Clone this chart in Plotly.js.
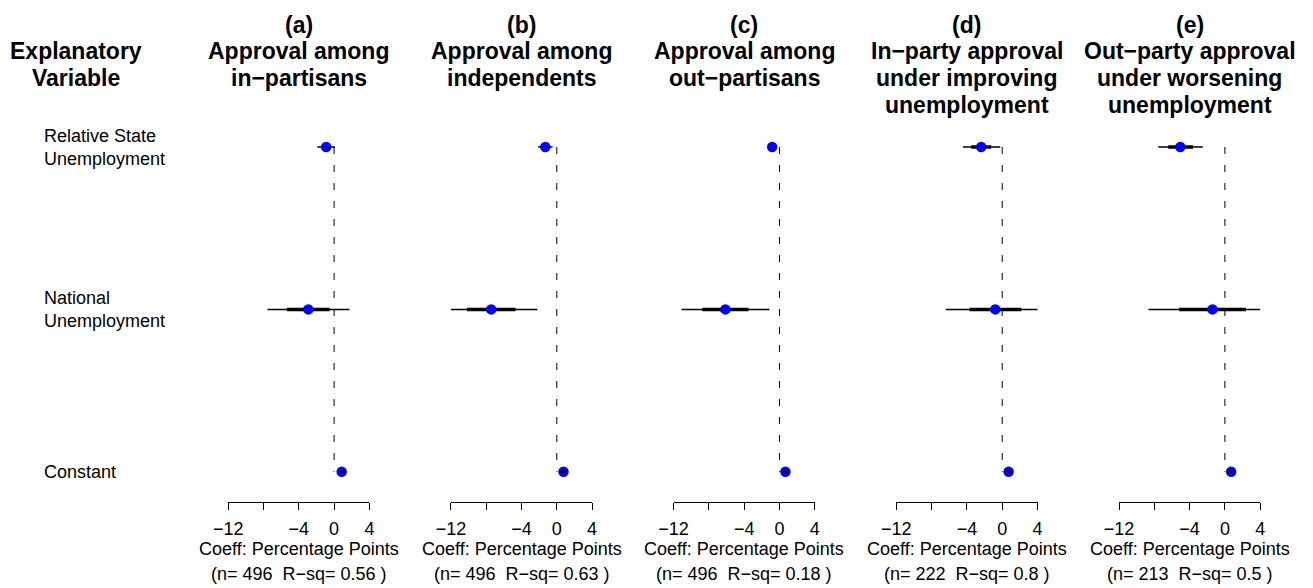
<!DOCTYPE html>
<html>
<head>
<meta charset="utf-8">
<script src="https://cdn.plot.ly/plotly-3.0.1.min.js"></script>
<style>
  html, body { margin: 0; padding: 0; background: #fff; }
  #chart { width: 1313px; height: 588px; }
</style>
</head>
<body>
<div id="chart"></div>
<script>
// Explanatory variables (rows, top to bottom) and their row positions
const variables = ['Relative State<br>Unemployment', 'National<br>Unemployment', 'Constant'];
const rowPos = [1, 2, 3];

// Panel headings, one list of lines per model
const panelTitles = [
  ['(a)', 'Approval among', 'in\u2212partisans'],
  ['(b)', 'Approval among', 'independents'],
  ['(c)', 'Approval among', 'out\u2212partisans'],
  ['(d)', 'In\u2212party approval', 'under improving', 'unemployment'],
  ['(e)', 'Out\u2212party approval', 'under worsening', 'unemployment']
];

// Coefficient estimates, percentage points (one array per model: relative, national, constant)
const coef = [
  [-0.90, -2.92, 0.86],
  [-1.30, -7.43, 0.76],
  [-0.83, -6.13, 0.67],
  [-2.38, -0.78, 0.73],
  [-5.05, -1.40, 0.71]
];
// Outer interval (thin segments)
const outerLo = [
  [-1.90, -7.55, 0.56],
  [-2.12, -12.70, 0.46],
  [-1.32, -11.10, 0.37],
  [-4.44, -6.40, 0.43],
  [-7.55, -8.66, 0.41]
];
const outerHi = [
  [0.10, 1.74, 1.16],
  [-0.48, -2.20, 1.06],
  [-0.34, -1.15, 0.97],
  [-0.22, 4.85, 1.03],
  [-2.50, 5.90, 1.01]
];
// Inner interval (thick segments)
const innerLo = [
  [-1.40, -5.34, 0.71],
  [-1.72, -10.19, 0.61],
  [-1.08, -8.74, 0.52],
  [-3.50, -3.70, 0.58],
  [-6.42, -5.18, 0.56]
];
const innerHi = [
  [-0.40, -0.50, 1.01],
  [-0.88, -4.68, 0.91],
  [-0.58, -3.50, 0.82],
  [-1.25, 2.16, 0.88],
  [-3.62, 2.38, 0.86]
];

// Model fit statistics
const nObs = [496, 496, 496, 222, 213];
const rSq = ['0.56', '0.63', '0.18', '0.8', '0.5'];

// Axis ticks
const tickVals = [-12, -8, -4, 0, 4];
const tickText = ['\u221212', '', '\u22124', '0', '4'];

// ---- layout geometry (pixels) ----
const W = 1313, H = 588;
const FONT = 'Liberation Sans, Arial, Helvetica, sans-serif';
const panelLeft0 = 228.2, panelStep = 222.7, panelWidth = 141.2;
const axisY = 501.7, topY = 120;
const rowPix1 = 147, rowStep = 162.4;
const yLow = 1 + (axisY - rowPix1) / rowStep;
const yHigh = 1 - (rowPix1 - topY) / rowStep;
const py = p => 1 - p / H;

const traces = [];
const annotations = [];
const layout = {
  width: W, height: H,
  margin: {l: 0, r: 0, t: 0, b: 0},
  paper_bgcolor: '#fff', plot_bgcolor: 'rgba(0,0,0,0)',
  showlegend: false,
  font: {family: FONT, size: 18, color: '#000'},
  annotations: annotations
};

function segs(lo, hi, idx) {
  const xs = [], ys = [];
  idx.forEach(i => { xs.push(lo[i], hi[i], null); ys.push(rowPos[i], rowPos[i], null); });
  return {xs, ys};
}

coef.forEach((c, k) => {
  const sfx = k === 0 ? '' : String(k + 1);
  const xa = 'x' + sfx, ya = 'y' + sfx;
  const left = panelLeft0 + k * panelStep;
  layout['xaxis' + sfx] = {
    domain: [left / W, (left + panelWidth) / W],
    range: [-12, 4],
    anchor: ya,
    tickmode: 'array', tickvals: tickVals, ticktext: tickText,
    ticks: 'outside', ticklen: 7, tickwidth: 1, tickcolor: '#000',
    ticklabelstandoff: 4,
    showline: true, linecolor: '#000', linewidth: 1,
    showgrid: false, zeroline: false, fixedrange: true,
    tickfont: {family: FONT, size: 18, color: '#000'}
  };
  layout['yaxis' + sfx] = {
    domain: [py(axisY), py(topY)],
    range: [yLow, yHigh],
    anchor: xa, visible: false, fixedrange: true
  };

  // reference line at zero
  traces.push({
    x: [0, 0], y: [rowPos[0], rowPos[2]], xaxis: xa, yaxis: ya,
    mode: 'lines', line: {color: '#000', width: 1, dash: '7px,11px'}, hoverinfo: 'skip'
  });
  // intervals for the unemployment rows
  const t1 = segs(outerLo[k], outerHi[k], [0, 1]);
  traces.push({x: t1.xs, y: t1.ys, xaxis: xa, yaxis: ya, mode: 'lines',
    line: {color: '#000', width: 1.5}, hoverinfo: 'skip'});
  const t2 = segs(innerLo[k], innerHi[k], [0, 1]);
  traces.push({x: t2.xs, y: t2.ys, xaxis: xa, yaxis: ya, mode: 'lines',
    line: {color: '#000', width: 3.5}, hoverinfo: 'skip'});
  // point estimates
  traces.push({
    x: c, y: rowPos, xaxis: xa, yaxis: ya, mode: 'markers',
    marker: {color: '#0000ff', size: 10.5, line: {width: 0}}, cliponaxis: false
  });
  // intervals for the constant, drawn over its point
  const t3 = segs(outerLo[k], outerHi[k], [2]);
  traces.push({x: t3.xs, y: t3.ys, xaxis: xa, yaxis: ya, mode: 'lines',
    line: {color: '#000', width: 1.5}, hoverinfo: 'skip'});
  const t4 = segs(innerLo[k], innerHi[k], [2]);
  traces.push({x: t4.xs, y: t4.ys, xaxis: xa, yaxis: ya, mode: 'lines',
    line: {color: '#000', width: 3.5}, hoverinfo: 'skip'});

  // panel heading
  const titleY = [25, 51.5, 78, 104.5];
  panelTitles[k].forEach((line, j) => {
    annotations.push({
      xref: xa + ' domain', x: 0.5, yref: 'paper', y: py(titleY[j]),
      xanchor: 'center', yanchor: 'middle', showarrow: false,
      text: '<b>' + line + '</b>', font: {family: FONT, size: 23, color: '#000'}
    });
  });
  // axis caption
  annotations.push({
    xref: xa + ' domain', x: 0.5, yref: 'paper', y: py(549),
    xanchor: 'center', yanchor: 'middle', showarrow: false,
    text: 'Coeff: Percentage Points', font: {family: FONT, size: 18, color: '#000'}
  });
  annotations.push({
    xref: xa + ' domain', x: 0.5, yref: 'paper', y: py(574),
    xanchor: 'center', yanchor: 'middle', showarrow: false,
    text: '(n= ' + nObs[k] + '\u00a0 R\u2212sq= ' + rSq[k] + ' )',
    font: {family: FONT, size: 18, color: '#000'}
  });
});

// left column heading and row labels
[['Explanatory', 51.5], ['Variable', 78]].forEach(([t, yp]) => {
  annotations.push({
    xref: 'paper', x: 76 / W, yref: 'paper', y: py(yp),
    xanchor: 'center', yanchor: 'middle', showarrow: false,
    text: '<b>' + t + '</b>', font: {family: FONT, size: 23, color: '#000'}
  });
});
variables.forEach((v, i) => {
  annotations.push({
    xref: 'paper', x: 42 / W, yref: 'y', y: rowPos[i],
    xanchor: 'left', yanchor: 'middle', align: 'left', showarrow: false,
    text: v, font: {family: FONT, size: 18, color: '#000'}
  });
});

Plotly.newPlot('chart', traces, layout, {staticPlot: true, displayModeBar: false});
</script>
</body>
</html>
